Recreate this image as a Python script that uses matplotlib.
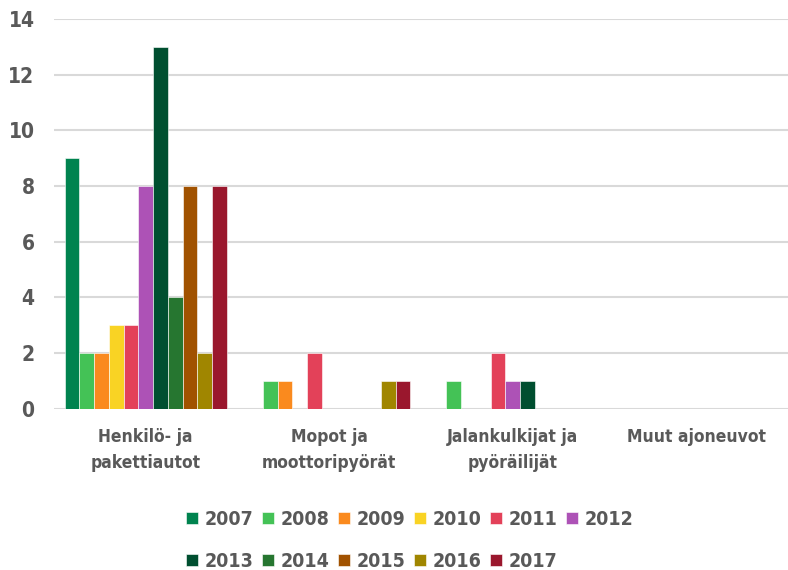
import numpy as np
import matplotlib
matplotlib.use('Agg')
import matplotlib.pyplot as plt

categories = ['Henkilö- ja\npakettiautot', 'Mopot ja\nmoottoripyörät',
              'Jalankulkijat ja\npyöräilijät', 'Muut ajoneuvot']
years = ['2007', '2008', '2009', '2010', '2011', '2012',
         '2013', '2014', '2015', '2016', '2017']
v2007 = [9, 0, 0, 0]
v2008 = [2, 1, 1, 0]
v2009 = [2, 1, 0, 0]
v2010 = [3, 0, 0, 0]
v2011 = [3, 2, 2, 0]
v2012 = [8, 0, 1, 0]
v2013 = [13, 0, 1, 0]
v2014 = [4, 0, 0, 0]
v2015 = [8, 0, 0, 0]
v2016 = [2, 1, 0, 0]
v2017 = [8, 1, 0, 0]
series = [v2007, v2008, v2009, v2010, v2011, v2012,
          v2013, v2014, v2015, v2016, v2017]
colors = ['#00834F', '#44C256', '#FA8A1E', '#F9D324', '#E34159', '#AD52B6',
          '#004F30', '#267630', '#A15200', '#A08600', '#9A172D']

plt.rcParams['font.family'] = ['DejaVu Sans']
plt.rcParams['font.stretch'] = 'condensed'
plt.rcParams['font.weight'] = 'bold'
txt = '#595959'

fig = plt.figure(figsize=(7.88, 5.70), dpi=100)
ax = fig.add_axes([0.0685, 0.2825, 0.9315, 0.6845])

n = len(series)
barw = 162 / 183.5 / n
x = np.arange(len(categories))
handles = []
for i, (vals, c, yr) in enumerate(zip(series, colors, years)):
    pos = x - barw * n / 2 + barw * (i + 0.5)
    b = ax.bar(pos, vals, width=barw, color=c, label=yr,
               edgecolor='white', linewidth=0.4, zorder=3)
    handles.append(b)

ax.set_xlim(-0.5, len(categories) - 0.5)
ax.set_ylim(0, 14)
ax.set_yticks(range(0, 15, 2))
ax.yaxis.grid(True, color='#D9D9D9', linewidth=1.5, zorder=0)
for s in ax.spines.values():
    s.set_visible(False)
ax.tick_params(axis='both', length=0, colors=txt)
ax.tick_params(axis='y', labelsize=15, pad=14)
ax.set_xticks(x)
ax.set_xticklabels(categories, fontsize=12.5, color=txt, linespacing=1.55)
ax.tick_params(axis='x', pad=14)

# matplotlib fills legend columns first; reorder so rows read 2007..2012, 2013..2017
order = [0, 6, 1, 7, 2, 8, 3, 9, 4, 10, 5]
leg = fig.legend([handles[k] for k in order], [years[k] for k in order],
                 loc='center', bbox_to_anchor=(0.52, 0.052), ncol=6,
                 frameon=False, fontsize=14, handlelength=0.6,
                 handleheight=0.6, handletextpad=0.35, columnspacing=0.45,
                 labelspacing=1.15)
for t in leg.get_texts():
    t.set_color(txt)

fig.savefig('out.png', dpi=100)
